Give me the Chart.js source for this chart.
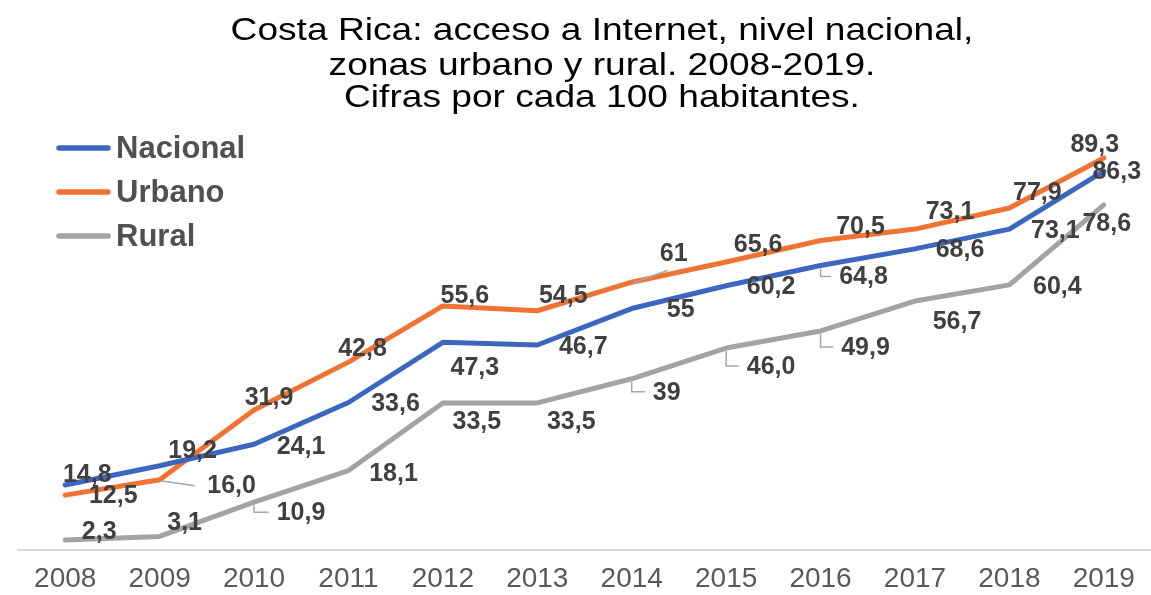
<!DOCTYPE html>
<html>
<head>
<meta charset="utf-8">
<script src="https://cdn.jsdelivr.net/npm/chart.js@4.4.1/dist/chart.umd.min.js"></script>
<style>
  html, body { margin: 0; padding: 0; background: #fff; }
  #wrap { width: 1151px; height: 595px; position: relative; }
</style>
</head>
<body>
<div id="wrap"><canvas id="chart"></canvas></div>
<script>
const years = ['2008', '2009', '2010', '2011', '2012', '2013', '2014', '2015', '2016', '2017', '2018', '2019'];
// values as printed on the chart (comma decimals)
const nacional = ['14,8', '19,2', '24,1', '33,6', '47,3', '46,7', '55', '60,2', '64,8', '68,6', '73,1', '86,3'];
const urbano = ['12,5', '16,0', '31,9', '42,8', '55,6', '54,5', '61', '65,6', '70,5', '73,1', '77,9', '89,3'];
const rural = ['2,3', '3,1', '10,9', '18,1', '33,5', '33,5', '39', '46,0', '49,9', '56,7', '60,4', '78,6'];
const titleLines = [
  'Costa Rica: acceso a Internet, nivel nacional,',
  'zonas urbano y rural. 2008-2019.',
  'Cifras por cada 100 habitantes.'
];

const toNum = s => parseFloat(s.replace(',', '.'));
const FONT = '"Liberation Sans", Arial, Helvetica, sans-serif';

// where each value label sits relative to its point: [dx, dy, leader, ex, ey]
// leader 'e' = elbow down/right, 's' = straight line to (label + ex, ey)
const labelPlace = {
  Nacional: [[22, -10], [33, -15], [47, 3], [47, 2], [32, 26], [46, 2], [49, 2], [45, 1],
             [43, 12, 'e'], [45, 1], [46, 2], [13, 1]],
  Urbano: [[48, 1], [72, 6, 's', -37, 0], [15, -12], [14, -13], [22, -10], [26, -15],
           [42, -28, 's', -6, 16], [32, -17], [40, -13], [35, -17], [28, -15], [-9, -13]],
  Rural: [[34, -8], [25, -13], [47, 11, 'e'], [45, 4], [34, 19], [34, 19], [35, 14, 'e'],
          [45, 19, 'e'], [45, 17, 'e'], [42, 21], [48, 2], [3, 19]]
};

const pointLabels = {
  id: 'pointLabels',
  afterDatasetsDraw(chart) {
    const ctx = chart.ctx;
    ctx.save();
    ctx.font = 'bold 25px ' + FONT;
    ctx.textAlign = 'center';
    ctx.textBaseline = 'middle';
    chart.data.datasets.forEach((ds, di) => {
      const meta = chart.getDatasetMeta(di);
      const place = labelPlace[ds.label];
      meta.data.forEach((pt, i) => {
        const p = place[i];
        const lx = pt.x + p[0], ly = pt.y + p[1];
        const txt = ds.labelText[i];
        const w = ctx.measureText(txt).width;
        if (p[2]) {
          ctx.strokeStyle = '#a6a6a6';
          ctx.lineWidth = 1.5;
          ctx.beginPath();
          if (p[2] === 'e') {
            ctx.moveTo(pt.x, pt.y + 3);
            ctx.lineTo(pt.x, ly - 1);
            ctx.lineTo(lx - w / 2 - 8, ly - 1);
          } else {
            ctx.moveTo(pt.x + 1, pt.y + 1);
            ctx.lineTo(lx + p[3], ly + p[4]);
          }
          ctx.stroke();
        }
        ctx.fillStyle = '#404040';
        ctx.fillText(txt, lx, ly);
      });
    });
    ctx.restore();
  }
};

const titleAndLegend = {
  id: 'titleAndLegend',
  afterDraw(chart) {
    const ctx = chart.ctx;
    ctx.save();
    ctx.fillStyle = '#000';
    ctx.font = '32px ' + FONT;
    ctx.textAlign = 'center';
    ctx.textBaseline = 'alphabetic';
    const base = [40, 75, 107];
    const sx = 1.16;   // the original title is set wider than Arial
    ctx.save();
    ctx.scale(sx, 1);
    titleLines.forEach((t, i) => ctx.fillText(t, 602 / sx, base[i]));
    ctx.restore();

    ctx.textAlign = 'left';
    ctx.font = 'bold 31px ' + FONT;
    chart.data.datasets.forEach((ds, i) => {
      const y = 148 + i * 44;
      ctx.strokeStyle = ds.borderColor;
      ctx.lineWidth = 5.5;
      ctx.lineCap = 'round';
      ctx.beginPath();
      ctx.moveTo(59, y);
      ctx.lineTo(108, y);
      ctx.stroke();
      ctx.fillStyle = '#505050';
      ctx.fillText(ds.label, 116, y + 10);
    });
    ctx.restore();
  }
};

function series(name, values, color) {
  return {
    label: name,
    data: values.map(toNum),
    labelText: values,
    borderColor: color,
    backgroundColor: color,
    borderWidth: 5,
    borderCapStyle: 'round',
    borderJoinStyle: 'round',
    pointRadius: 0,
    tension: 0,
    fill: false
  };
}

new Chart('chart', {
  type: 'line',
  data: {
    labels: years,
    datasets: [
      series('Nacional', nacional, '#3C67BE'),
      series('Urbano', urbano, '#F07334'),
      series('Rural', rural, '#A3A3A3')
    ]
  },
  options: {
    responsive: true,
    maintainAspectRatio: false,
    animation: false,
    devicePixelRatio: 1,
    layout: { padding: { top: 111, left: 18, right: 0, bottom: 0 } },
    plugins: {
      legend: { display: false },
      title: { display: false },
      tooltip: { enabled: false }
    },
    scales: {
      x: {
        offset: true,
        grid: { display: false, drawTicks: false },
        border: { display: true, color: '#d9d9d9', width: 2 },
        ticks: { color: '#595959', font: { family: FONT, size: 28 }, padding: 12 },
        afterFit(scale) { scale.height = 45; }
      },
      y: {
        display: false,
        min: 0,
        max: 100
      }
    }
  },
  plugins: [pointLabels, titleAndLegend]
});
</script>
</body>
</html>
